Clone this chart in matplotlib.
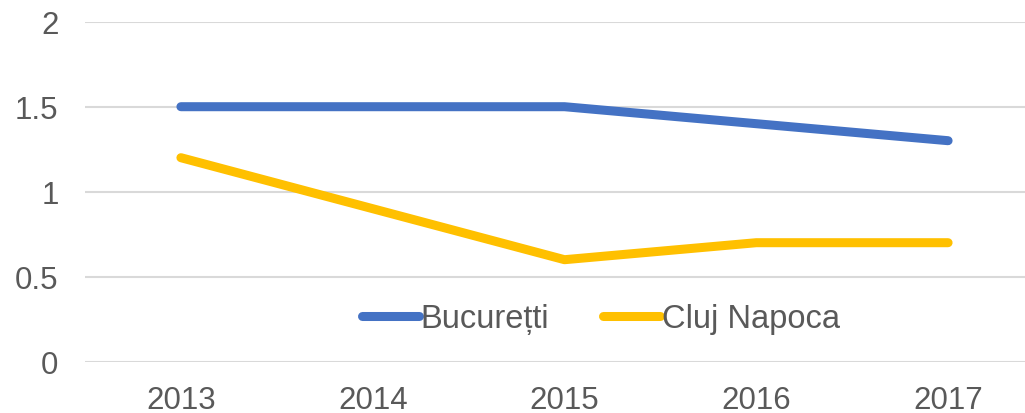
import matplotlib
matplotlib.use("Agg")
import matplotlib.pyplot as plt

years = ["2013", "2014", "2015", "2016", "2017"]
bucuresti = [1.5, 1.5, 1.5, 1.4, 1.3]
cluj = [1.2, 0.9, 0.6, 0.7, 0.7]
series_names = ["Bucurețti", "Cluj Napoca"]
yticks = [0, 0.5, 1, 1.5, 2]
ytick_labels = ["0", "0.5", "1", "1.5", "2"]

plt.rcParams['font.family'] = ['Liberation Sans', 'DejaVu Sans']
text_color = "#595959"

fig = plt.figure(figsize=(10.25, 4.14), dpi=100)
ax = fig.add_axes([85/1025, 51.3/414, 959/1025, 340/414])

x = list(range(len(years)))
ax.plot(x, bucuresti, color="#4472C4", lw=6.5, solid_capstyle="round", solid_joinstyle="round", label=series_names[0], zorder=3)
ax.plot(x, cluj, color="#FFC000", lw=6.5, solid_capstyle="round", solid_joinstyle="round", label=series_names[1], zorder=3)

ax.set_xlim(-0.5, len(years) - 0.5)
ax.set_ylim(0, 2)
ax.set_yticks(yticks)
ax.set_yticklabels(ytick_labels)
ax.set_xticks(x)
ax.set_xticklabels(years)
ax.yaxis.grid(True, color="#D9D9D9", lw=1.5)
ax.set_axisbelow(True)
for s in ax.spines.values():
    s.set_visible(False)
ax.tick_params(axis="both", length=0, labelsize=22.5, colors=text_color)
ax.tick_params(axis="x", pad=17)
ax.tick_params(axis="y", pad=19)
ax.patch.set_alpha(0)

leg = ax.legend(loc="center", bbox_to_anchor=(601/1025, (414-320)/414), bbox_transform=fig.transFigure,
                ncol=2, frameon=False, fontsize=23.5, handlelength=1.75, handletextpad=0.05,
                columnspacing=1.65, borderpad=0, borderaxespad=0)
for t in leg.get_texts():
    t.set_color(text_color)

fig.savefig("out.png", dpi=100)
